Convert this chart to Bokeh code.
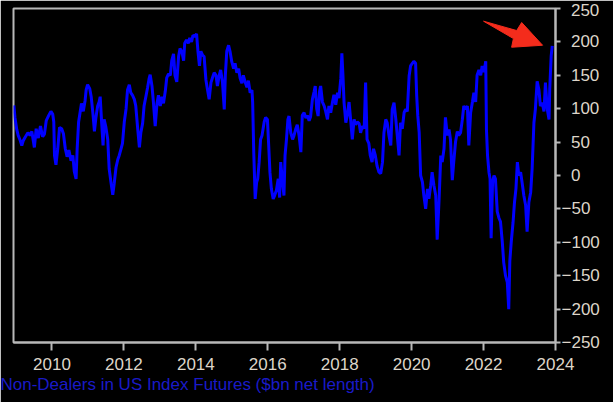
from bokeh.plotting import figure
from bokeh.models import Range1d, FixedTicker, Title
from bokeh.embed import file_html
from bokeh.resources import INLINE

years = [
    2008.94, 2008.97, 2009.02, 2009.06, 2009.12, 2009.16, 2009.20, 2009.25, 2009.33, 2009.39,
    2009.44, 2009.51, 2009.56, 2009.62, 2009.68, 2009.74, 2009.79, 2009.84, 2009.91, 2009.97,
    2010.02, 2010.05, 2010.07, 2010.11, 2010.16, 2010.21, 2010.27, 2010.32, 2010.37, 2010.42,
    2010.47, 2010.53, 2010.58, 2010.62, 2010.67, 2010.70, 2010.74, 2010.78, 2010.82, 2010.87,
    2010.92, 2010.95, 2010.99, 2011.05, 2011.09, 2011.14, 2011.18, 2011.22, 2011.27, 2011.31,
    2011.34, 2011.38, 2011.42, 2011.45, 2011.50, 2011.55, 2011.59, 2011.64, 2011.69, 2011.73,
    2011.78, 2011.83, 2011.87, 2011.92, 2011.96, 2012.01, 2012.06, 2012.10, 2012.15, 2012.19,
    2012.24, 2012.29, 2012.33, 2012.38, 2012.43, 2012.47, 2012.52, 2012.56, 2012.61, 2012.66,
    2012.70, 2012.73, 2012.78, 2012.82, 2012.87, 2012.92, 2012.96, 2013.01, 2013.06, 2013.10,
    2013.15, 2013.19, 2013.24, 2013.29, 2013.33, 2013.38, 2013.42, 2013.47, 2013.52, 2013.56,
    2013.61, 2013.66, 2013.69, 2013.74, 2013.79, 2013.83, 2013.88, 2013.92, 2013.97, 2014.02,
    2014.06, 2014.10, 2014.14, 2014.19, 2014.23, 2014.28, 2014.32, 2014.37, 2014.42, 2014.46,
    2014.51, 2014.56, 2014.60, 2014.65, 2014.69, 2014.74, 2014.79, 2014.82, 2014.86, 2014.91,
    2014.95, 2015.00, 2015.05, 2015.09, 2015.14, 2015.19, 2015.23, 2015.28, 2015.32, 2015.37,
    2015.42, 2015.46, 2015.51, 2015.56, 2015.58, 2015.61, 2015.65, 2015.69, 2015.72, 2015.76,
    2015.80, 2015.84, 2015.90, 2015.94, 2015.99, 2016.03, 2016.06, 2016.10, 2016.15, 2016.19,
    2016.24, 2016.29, 2016.33, 2016.36, 2016.41, 2016.45, 2016.48, 2016.52, 2016.56, 2016.59,
    2016.64, 2016.69, 2016.73, 2016.78, 2016.82, 2016.87, 2016.92, 2016.96, 2017.01, 2017.06,
    2017.10, 2017.15, 2017.19, 2017.24, 2017.29, 2017.32, 2017.36, 2017.40, 2017.44, 2017.47,
    2017.52, 2017.57, 2017.61, 2017.66, 2017.70, 2017.75, 2017.80, 2017.84, 2017.89, 2017.94,
    2017.98, 2018.03, 2018.06, 2018.09, 2018.12, 2018.17, 2018.21, 2018.26, 2018.31, 2018.35,
    2018.40, 2018.44, 2018.49, 2018.54, 2018.58, 2018.63, 2018.68, 2018.72, 2018.76, 2018.81,
    2018.85, 2018.90, 2018.94, 2018.99, 2019.04, 2019.09, 2019.14, 2019.19, 2019.23, 2019.28,
    2019.32, 2019.37, 2019.42, 2019.46, 2019.51, 2019.56, 2019.60, 2019.65, 2019.69, 2019.74,
    2019.79, 2019.83, 2019.88, 2019.93, 2019.97, 2020.02, 2020.06, 2020.11, 2020.14, 2020.17,
    2020.21, 2020.25, 2020.30, 2020.34, 2020.39, 2020.44, 2020.48, 2020.53, 2020.57, 2020.62,
    2020.67, 2020.71, 2020.76, 2020.81, 2020.85, 2020.90, 2020.94, 2020.99, 2021.04, 2021.08,
    2021.13, 2021.17, 2021.22, 2021.27, 2021.31, 2021.36, 2021.41, 2021.45, 2021.50, 2021.55,
    2021.59, 2021.64, 2021.69, 2021.73, 2021.78, 2021.82, 2021.87, 2021.92, 2021.96, 2022.01,
    2022.06, 2022.08, 2022.11, 2022.15, 2022.18, 2022.21, 2022.25, 2022.29, 2022.33, 2022.38,
    2022.43, 2022.47, 2022.52, 2022.56, 2022.61, 2022.66, 2022.70, 2022.73, 2022.77, 2022.82,
    2022.86, 2022.90, 2022.94, 2022.98, 2023.03, 2023.07, 2023.12, 2023.17, 2023.21, 2023.26,
    2023.31, 2023.35, 2023.40, 2023.44, 2023.49, 2023.54, 2023.58, 2023.63, 2023.68, 2023.72,
    2023.77, 2023.82, 2023.84, 2023.88, 2023.91,
]

# net length, $bn
net_length = [
    105, 87, 69, 60, 52, 45, 52, 57, 64, 60,
    66, 42, 70, 56, 74, 58, 62, 82, 90, 96,
    92, 80, 30, 16, 40, 72, 70, 62, 40, 28,
    38, 22, 30, 6, -5, 40, 80, 94, 108, 96,
    112, 128, 136, 130, 118, 92, 66, 86, 104, 110,
    118, 80, 45, 84, 72, 54, 10, -10, -29, -12,
    12, 24, 30, 40, 48, 80, 100, 128, 136, 124,
    120, 114, 104, 72, 42, 64, 78, 104, 118, 132,
    145, 151, 134, 110, 74, 108, 120, 104, 118, 108,
    126, 146, 152, 150, 172, 182, 150, 140, 178, 190,
    186, 172, 198, 203, 198, 206, 200, 210, 208, 212,
    185, 164, 186, 180, 178, 143, 130, 114, 139, 146,
    154, 150, 134, 150, 158, 140, 99, 150, 186, 195,
    186, 170, 160, 168, 154, 160, 146, 138, 150, 140,
    132, 142, 124, 128, 109, 35, -35, -10, -5, 20,
    54, 60, 80, 87, 84, 40, 5, -20, -35, -30,
    -22, -5, -33, 20, -10, -30, 30, 54, 84, 89,
    64, 54, 60, 70, 76, 60, 35, 90, 94, 86,
    90, 82, 88, 114, 126, 134, 100, 89, 126, 134,
    110, 104, 96, 84, 104, 94, 110, 121, 106, 124,
    116, 145, 183, 150, 110, 79, 90, 110, 80, 54,
    84, 76, 80, 78, 64, 74, 70, 139, 54, 48,
    30, 20, 40, 30, 14, 5, 3, 20, 64, 84,
    79, 60, 45, 99, 109, 84, 60, 30, 79, 70,
    94, 99, 96, 149, 164, 168, 171, 168, 120, 90,
    64, 0, -10, -30, -50, -20, -35, -15, 5, -15,
    -30, -96, -40, 30, 20, 40, 87, 60, 69, 54,
    -7, 20, 50, 66, 60, 64, 84, 104, 99, 104,
    45, 94, 110, 124, 110, 150, 158, 150, 164, 155,
    171, 69, 30, 5, -5, -94, -10, 0, -5, -54,
    -64, -69, -99, -130, -150, -160, -200, -128, -99, -70,
    -40, -20, 20, 0, 5, -10, -30, -45, -84, -40,
    -25, 10, 79, 99, 141, 128, 104, 109, 96, 139,
    100, 84, 130, 179, 194,
]

x_ticks = [2010, 2012, 2014, 2016, 2018, 2020, 2022, 2024]
y_ticks = [-250, -200, -150, -100, -50, 0, 50, 100, 150, 200, 250]
title_text = "Non-Dealers in US Index Futures ($bn net length)"

# red pointer arrow outline (annotation), in data units
arrow_x = [2022.00, 2022.92, 2023.06, 2023.64, 2022.78, 2022.83]
arrow_y = [231, 217, 229, 195, 192, 205]

FONT = "'Liberation Sans Narrow', 'Arial Narrow', 'Liberation Sans', Arial, sans-serif"
LABEL_COLOR = "#ddd5c9"
FRAME_COLOR = "#b8b8b8"

p = figure(width=613, height=402, output_backend="svg", toolbar_location=None,
           y_axis_location="right",
           x_range=Range1d(2008.93, 2024.0), y_range=Range1d(-250, 250),
           background_fill_color="black", border_fill_color="black",
           min_border_left=13, min_border_right=58, min_border_top=8, min_border_bottom=60)

p.line(years, net_length, line_color="#0000ff", line_width=3)
p.patch(arrow_x, arrow_y, fill_color="#f42c1c", line_color="#f42c1c", line_width=1)

p.grid.visible = False
p.outline_line_color = FRAME_COLOR
p.outline_line_width = 2

p.xaxis.ticker = FixedTicker(ticks=x_ticks)
p.yaxis.ticker = FixedTicker(ticks=y_ticks)
# digits of positive and negative labels line up (minus sign hangs left)
p.yaxis.major_label_overrides = {
    t: ("\u2212" + str(-t)) if t < 0 else ("\u2007" + str(t)) for t in y_ticks
}
for ax in (p.xaxis[0], p.yaxis[0]):
    ax.axis_line_color = FRAME_COLOR
    ax.axis_line_width = 2
    ax.major_tick_line_color = FRAME_COLOR
    ax.major_tick_line_width = 2
    ax.minor_tick_line_color = None
    ax.major_tick_in = 0
    ax.major_label_text_color = LABEL_COLOR
    ax.major_label_text_font = FONT
    ax.major_label_text_font_size = "17px"
p.xaxis.major_tick_out = 8
p.xaxis.major_label_standoff = 7
p.yaxis.major_tick_out = 5
p.yaxis.major_label_standoff = 1

p.add_layout(Title(text=title_text, align="left", offset=-13, standoff=0,
                   text_color="#1a1ac8", text_font=FONT, text_font_size="17px",
                   text_font_style="normal"), "below")

html = file_html(p, INLINE)
html = html.replace("<body>", '<body style="background-color:#000000;">', 1)
open("out.html", "w").write(html)
